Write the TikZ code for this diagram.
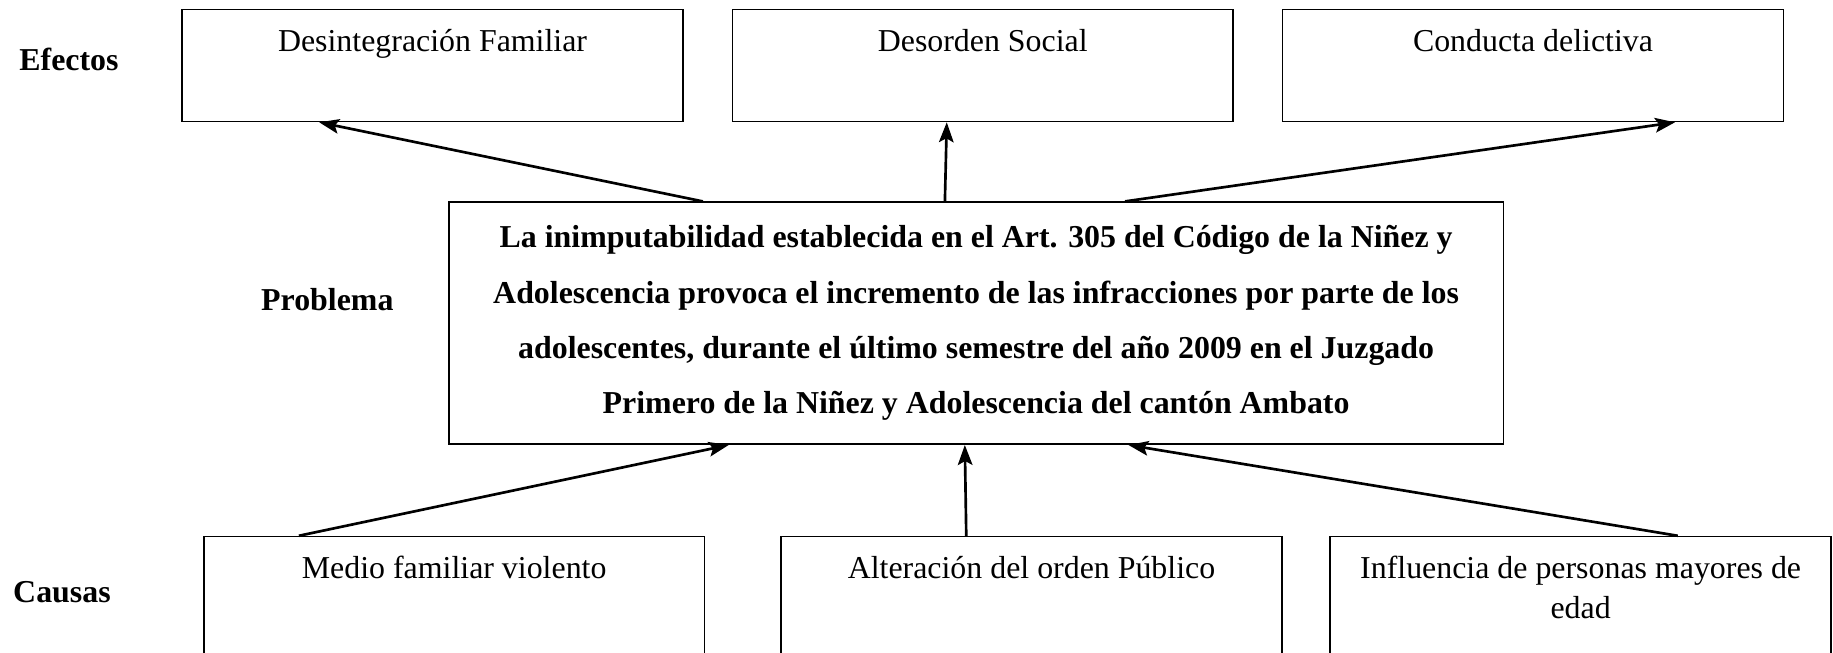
\documentclass[tikz,border=0pt]{standalone}
\usepackage{fontspec}
\setmainfont{Liberation Serif}
\usetikzlibrary{positioning}
\usetikzlibrary{arrows.meta}

\begin{document}
\begin{tikzpicture}[
            x = 0.44pt, y = -0.44pt, % grid of the sketch
            > = {Stealth[length=7.5pt, width=5.5pt, inset=1.5pt]}, % arrow head style
            line width = 0.6pt,
            font = \fontsize{12}{15}\selectfont
        ]

        \tikzstyle{caja}=[
            draw,
            inner sep = 0pt,
            minimum width = 188.5pt,
            text height = 15.8pt,
            text depth = 26.4pt,
            align = center
        ]
        \tikzstyle{causa}=[caja, text depth = 32.6pt]
        \tikzstyle{flecha}=[->, line width = 1pt]
        \tikzstyle{rotulo}=[anchor = base, font = \fontsize{12}{15}\selectfont\bfseries]

        \useasboundingbox (0,0) rectangle (1568,558);
        \clip (0,0) rectangle (1568,558);

% problem
        \node[draw, inner sep = 0pt, minimum width = 396.9pt, minimum height = 91.1pt, align = center,
              font = \fontsize{12}{20.8}\selectfont\bfseries] (P) at (835,276.5)
              {La inimputabilidad establecida en el Art. 305 del Código de la Niñez y\\
               Adolescencia provoca el incremento de las infracciones por parte de los\\
               adolescentes, durante el último semestre del año 2009 en el Juzgado\\
               Primero de la Niñez y Adolescencia del cantón Ambato};
        \node[rotulo] (problema) at (280,266) {Problema};

        % effects
        \node[caja] (E1) at (370,56) {Desintegración Familiar};
        \node[caja] (E2) [right = 18pt of E1] {Desorden Social};
        \node[caja] (E3) [right = 18pt of E2] {Conducta delictiva};
        \node[rotulo] (efectos) at (59,60) {Efectos};

        \path[flecha] ([xshift=95.9pt]P.north west) edge node {} ([xshift=51.9pt]E1.south west);
        \path[flecha] ([xshift=187pt]P.north west) edge node {} ([xshift=81pt]E2.south west);
        \path[flecha] ([xshift=254.8pt]P.north west) edge node {} ([xshift=148pt]E3.south west);

        % causes
        \node[causa] (C1) at (388.5,514) {Medio familiar violento};
        \node[causa] (C2) [right = 28.2pt of C1] {Alteración del orden Público};
        \node[causa, text height = 30.8pt, text depth = 17.6pt] (C3) [right = 17.6pt of C2]
              {Influencia de personas mayores de\\ edad};
        \node[rotulo] (causas) at (53,515) {Causas};

        \path[flecha] ([xshift=36.1pt]C1.north west) edge node {} ([xshift=105.6pt]P.south west);
        \path[flecha] ([xshift=70pt]C2.north west) edge node {} ([xshift=194.5pt]P.south west);
        \path[flecha] ([xshift=131.1pt]C3.north west) edge node {} ([xshift=256.1pt]P.south west);

\end{tikzpicture}
\end{document}
